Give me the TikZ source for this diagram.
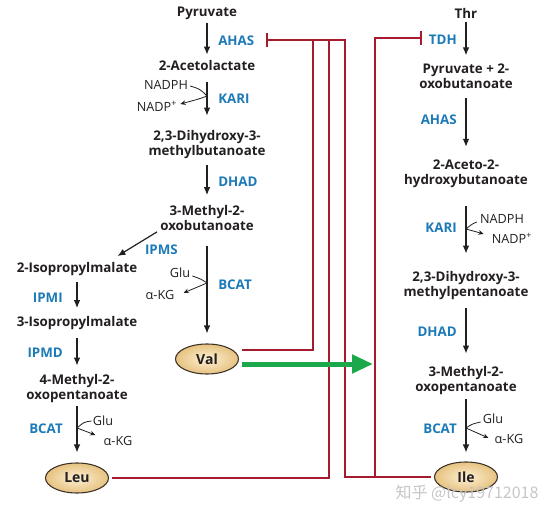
\documentclass[tikz,border=0pt]{standalone}
\usepackage{fontspec}
\setmainfont{Open Sans}
\newfontfamily\cjkfont{Noto Sans CJK SC}
\usepackage{tikz}
\usetikzlibrary{arrows.meta,shapes}
\usepackage{xcolor}

\definecolor{metblack}{RGB}{35,31,32}
\definecolor{enzblue}{RGB}{28,122,184}
\definecolor{inhred}{RGB}{166,28,46}
\definecolor{flowgreen}{RGB}{26,168,74}
\definecolor{aain}{RGB}{253,240,212}
\definecolor{aaout}{RGB}{230,194,128}
\definecolor{aaedge}{RGB}{60,50,40}

\tikzset{
      met/.style={font=\fontsize{10}{11.25}\selectfont\bfseries, text=metblack, align=center, inner sep=0pt},
      enz/.style={font=\fontsize{10}{11.25}\selectfont\bfseries, text=enzblue, inner sep=0pt},
      cof/.style={font=\fontsize{9.5}{11}\selectfont, text=metblack, inner sep=0pt},
      aa/.style={ellipse, draw=aaedge, line width=0.8pt, inner color=aain, outer color=aaout,
                  minimum width=47.25pt, minimum height=22.5pt, inner sep=0pt,
                  font=\fontsize{10.5}{11.25}\selectfont\bfseries, text=metblack},
      rxn/.style={draw=metblack, line width=0.9pt, -{Latex[length=6pt,width=5pt]}},
      cofline/.style={draw=metblack, line width=0.6pt, -{Stealth[length=4pt,width=3.5pt]}},
      inhib/.style={draw=inhred, line width=1.8pt},
      inhibend/.style={inhib, -{Bar[width=11pt]}},
      valflow/.style={draw=flowgreen, line width=3.75pt, -{Triangle[length=15.75pt,width=13.5pt]}}
}

\begin{document}
\begin{tikzpicture}[x=0.75pt,y=0.75pt,yscale=-1,xscale=1]
                  \useasboundingbox (0,0) rectangle (557,513);

                  % Val branch
                  \node[met] (pyr) at (207,13) {Pyruvate};
                  \node[enz, anchor=west] (ahas1) at (218,41) {AHAS};
                  \node[met] (acl) at (207,66) {2-Acetolactate};
                  \node[cof] (nadph1) at (166,85) {NADPH};
                  \node[cof] (nadp1) at (157,106) {NADP\textsuperscript{+}};
                  \node[enz, anchor=west] (kari1) at (218,99) {KARI};
                  \node[met] (dhmb) at (207,145) {2,3-Dihydroxy-3-\\methylbutanoate};
                  \node[enz, anchor=west] (dhad1) at (218,182) {DHAD};
                  \node[met] (mob) at (207,218) {3-Methyl-2-\\oxobutanoate};
                  \node[enz, anchor=east] (ipms) at (178,250) {IPMS};
                  \node[cof] (glu1) at (180,273) {Glu};
                  \node[cof] (akg1) at (160,295) {α-KG};
                  \node[enz, anchor=west] (bcat1) at (218,285) {BCAT};
                  \node[aa] (val) at (207,359) {Val};

                  % Leu branch
                  \node[met] (ipm2) at (77,269) {2-Isopropylmalate};
                  \node[enz, anchor=east] (ipmi) at (63,298) {IPMI};
                  \node[met] (ipm3) at (77,323) {3-Isopropylmalate};
                  \node[enz, anchor=east] (ipmd) at (63,353) {IPMD};
                  \node[met] (mop) at (77,389) {4-Methyl-2-\\oxopentanoate};
                  \node[enz, anchor=east] (bcat2) at (63,429) {BCAT};
                  \node[cof] (glu2) at (103,421) {Glu};
                  \node[cof] (akg2) at (118,441) {α-KG};
                  \node[aa] (leu) at (77,478) {Leu};

                  % Ile branch
                  \node[met] (thr) at (466,13) {Thr};
                  \node[enz, anchor=east] (tdh) at (457,40) {TDH};
                  \node[met] (pob) at (466,76) {Pyruvate + 2-\\oxobutanoate};
                  \node[enz, anchor=east] (ahas2) at (457,120) {AHAS};
                  \node[met] (ahb) at (466,174) {2-Aceto-2-\\hydroxybutanoate};
                  \node[enz, anchor=east] (kari2) at (457,228) {KARI};
                  \node[cof] (nadph2) at (502,219) {NADPH};
                  \node[cof] (nadp2) at (512,238) {NADP\textsuperscript{+}};
                  \node[met] (dhmp) at (466,286) {2,3-Dihydroxy-3-\\methylpentanoate};
                  \node[enz, anchor=east] (dhad2) at (457,332) {DHAD};
                  \node[met] (mop2) at (466,381) {3-Methyl-2-\\oxopentanoate};
                  \node[enz, anchor=east] (bcat3) at (457,429) {BCAT};
                  \node[cof] (glu3) at (493,419) {Glu};
                  \node[cof] (akg3) at (509,439) {α-KG};
                  \node[aa] (ile) at (466,477) {Ile};

                  %Straight Lines (reactions)
                  \draw[rxn, shorten <=2.25pt, shorten >=4.5pt] (pyr) -- (acl);
                  \draw[rxn, shorten <=8.25pt, shorten >=11.25pt] (acl) -- (dhmb);
                  \draw[rxn, shorten <=4.5pt, shorten >=7.5pt] (dhmb) -- (mob);
                  \draw[rxn, shorten <=11.25pt, shorten >=7.5pt] (mob) -- (val);
                  \draw[rxn] ([shift={(-3,1)}]mob.south west) -- ([shift={(-20,-6)}]ipm2.north east);
                  \draw[rxn, shorten <=4.5pt, shorten >=6pt] (ipm2) -- (ipm3);
                  \draw[rxn, shorten <=6pt, shorten >=6.75pt] (ipm3) -- (mop);
                  \draw[rxn, shorten <=2.25pt, shorten >=7.5pt] (mop) -- (leu);
                  \draw[rxn, shorten <=3pt, shorten >=6pt] (thr) -- (pob);
                  \draw[rxn, shorten <=6.75pt, shorten >=9.75pt] (pob) -- (ahb);
                  \draw[rxn, shorten <=13.5pt, shorten >=13.5pt] (ahb) -- (dhmp);
                  \draw[rxn, shorten <=6pt, shorten >=9.75pt] (dhmp) -- (mop2);
                  \draw[rxn, shorten <=3pt, shorten >=6.75pt] (mop2) -- (ile);

                  %Curves (cofactors)
                  \coordinate (kari1pt) at (207,96);
                  \coordinate (bcat1pt) at (207,283);
                  \coordinate (bcat2pt) at (77,428);
                  \coordinate (kari2pt) at (466,229);
                  \coordinate (bcat3pt) at (466,428);
                  \draw[cofline] ([shift={(2,1)}]nadph1.east) .. controls (200,89) .. (kari1pt) .. controls (199,99) .. ([shift={(3,-2)}]nadp1.east);
                  \draw[cofline] ([shift={(2,3)}]glu1.east) .. controls (201,279) .. (bcat1pt) .. controls (197,287) .. ([shift={(9,-2)}]akg1.east);
                  \draw[cofline] ([shift={(-1,0)}]glu2.west) .. controls (84,422) .. (bcat2pt) .. controls (85,431) .. ([shift={(-8,-6)}]akg2.west);
                  \draw[cofline] ([shift={(-3,3)}]nadph2.west) .. controls (472,224) .. (kari2pt) .. controls (474,231) .. ([shift={(-8,-4)}]nadp2.west);
                  \draw[cofline] ([shift={(-2,3)}]glu3.west) .. controls (472,424) .. (bcat3pt) .. controls (475,432) .. ([shift={(-6,-1)}]akg3.west);

                  %Feedback inhibition
                  \coordinate (barA) at (266,40);
                  \coordinate (barT) at (422,38);
                  \coordinate (ilejoin) at (375,477);
                  \draw[inhib] ([shift={(3,-9)}]val.east) -| (313,40);
                  \draw[inhib] ([shift={(3,0)}]leu.east) -| (329,40);
                  \draw[inhibend] ([shift={(-3,0)}]ile.west) -| (345,40) -- (barA);
                  \draw[inhibend] (ilejoin) |- (barT);

                  %Val flow
                  \coordinate (valtip) at (373,364);
                  \draw[valflow] ([shift={(3,5)}]val.east) -- (valtip);

                  % Text Node
                  \node[text=gray!45, font=\cjkfont\fontsize{12}{14}\selectfont, inner sep=0pt] (wmark) at (467,494) {知乎 @lcy19712018};

\end{tikzpicture}
\end{document}
